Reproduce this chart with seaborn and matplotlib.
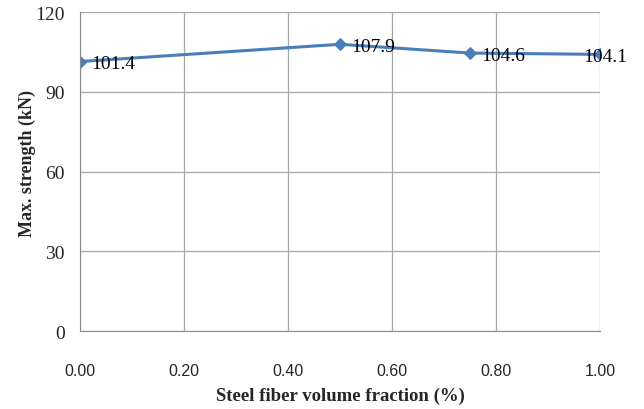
import matplotlib
matplotlib.use("Agg")
import matplotlib.pyplot as plt
import seaborn as sns
import pandas as pd

fraction = [0.00, 0.50, 0.75, 1.00]
strength = [101.4, 107.9, 104.6, 104.1]
x_ticks = [0.0, 0.2, 0.4, 0.6, 0.8, 1.0]
y_ticks = [0, 30, 60, 90, 120]

sns.set_style("white")
plt.rcParams["font.family"] = ["Liberation Serif", "DejaVu Serif"]

df = pd.DataFrame({"fraction": fraction, "strength": strength})

fig = plt.figure(figsize=(6.44, 4.10), dpi=100)
ax = fig.add_axes([0.124, 0.190, 0.808, 0.778])

sns.lineplot(data=df, x="fraction", y="strength", ax=ax, color="#4a7ebb",
             linewidth=2.2, marker="D", markersize=6, markeredgecolor="#4a7ebb")

for i, (xv, yv) in enumerate(zip(fraction, strength)):
    dx = -12 if i == len(fraction) - 1 else 8
    ax.annotate(f"{yv:.1f}", (xv, yv), xytext=(dx, -1.5), textcoords="offset points",
                ha="left", va="center", fontsize=14, color="black",
                family=["Liberation Serif"], annotation_clip=False)

ax.set_xlim(0, 1.0)
ax.set_ylim(0, 120)
ax.set_xticks(x_ticks)
ax.set_yticks(y_ticks)
ax.set_xticklabels([f"{v:.2f}" for v in x_ticks], family=["Liberation Sans"], fontsize=11.5)
ax.set_yticklabels([str(v) for v in y_ticks], fontsize=14)
ax.grid(True, color="#a6a6a6", linewidth=0.9)
for s in ax.spines.values():
    s.set_visible(False)
ax.spines["left"].set_visible(True)
ax.spines["bottom"].set_visible(True)
ax.spines["left"].set_color("#8c8c8c")
ax.spines["bottom"].set_color("#8c8c8c")
ax.tick_params(axis="x", direction="out", length=5, color="#8c8c8c", pad=18)
ax.tick_params(axis="y", direction="out", length=5, color="#8c8c8c", pad=6)

ax.set_xlabel("Steel fiber volume fraction (%)", fontsize=13.5, fontweight="bold", labelpad=6)
ax.set_ylabel("Max. strength (kN)", fontsize=13, fontweight="bold", labelpad=12)
ax.yaxis.set_label_coords(-0.085, 0.53)

fig.savefig("out.png", dpi=100)
